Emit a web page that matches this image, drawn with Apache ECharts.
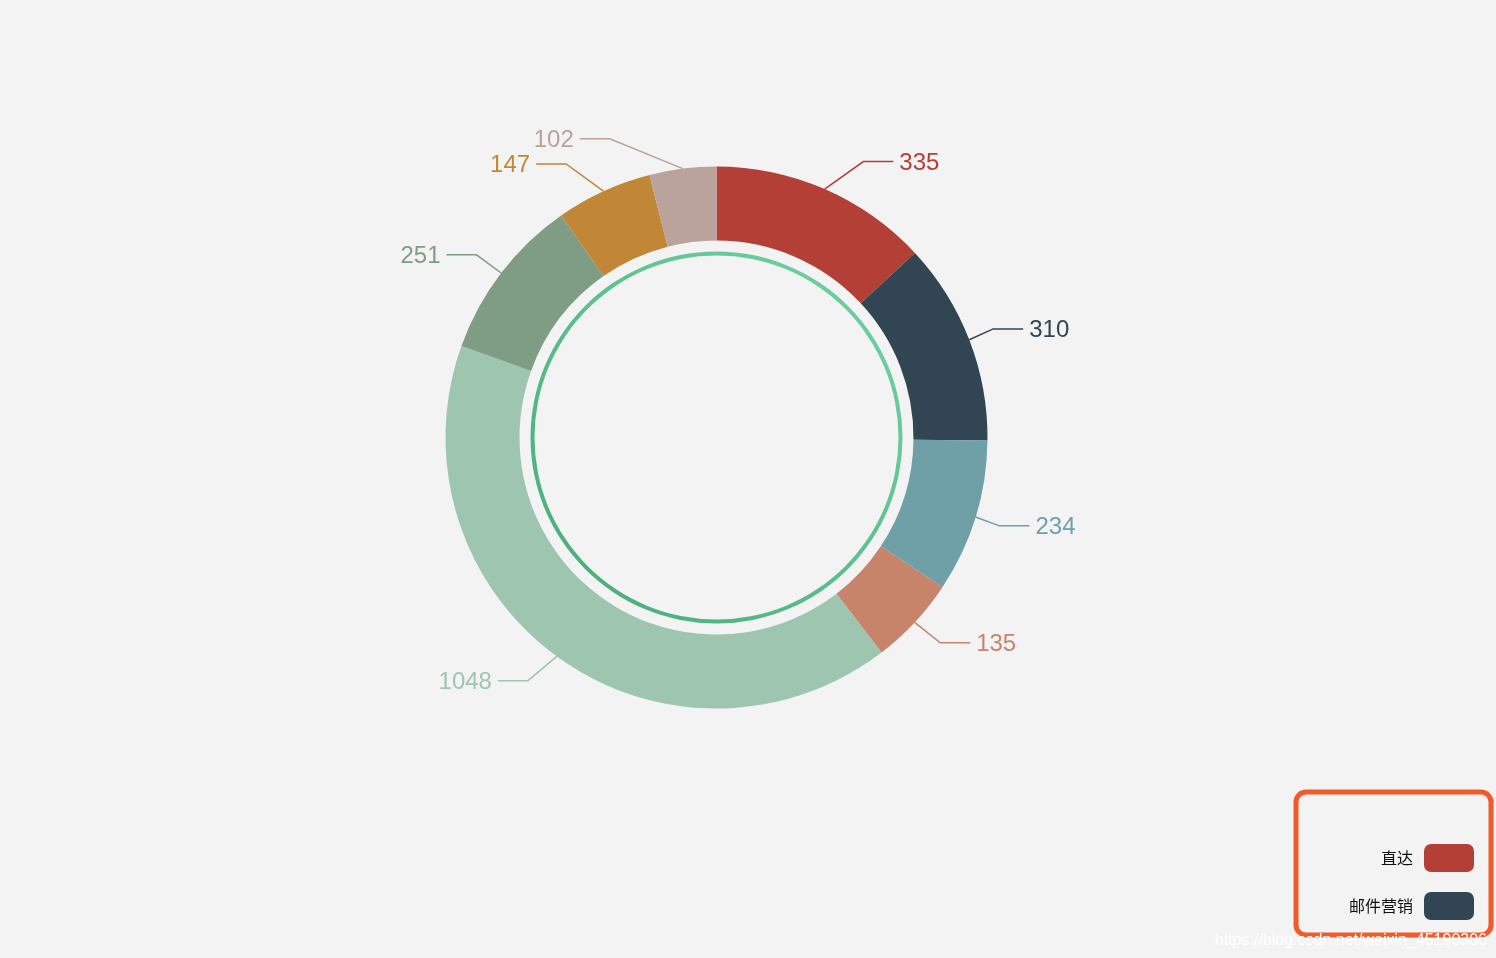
<!DOCTYPE html>
<html>
<head>
<meta charset="utf-8">
<script src="https://cdn.jsdelivr.net/npm/echarts@6/dist/echarts.min.js"></script>
<style>
html,body{margin:0;padding:0;background:#f3f3f3;}
#main{width:1496px;height:958px;}
</style>
</head>
<body>
<div id="main"></div>
<script>
var names = ['直达', '邮件营销', '联盟广告', '视频广告', '百度', '谷歌', '必应', '其他'];
var values = [335, 310, 234, 135, 1048, 251, 147, 102];
var colors = ['#b43f36', '#324553', '#6fa0a8', '#c7846a', '#9dc5af', '#7e9d84', '#c18736', '#b9a39a'];
var legendNames = ['直达', '邮件营销'];
var watermark = 'https://blog.csdn.net/weixin_45190306';

var CX = 716.5, CY = 437.5, R0 = 197, R = 271;
var LEN = 30, LEN2 = 30, GAP = 6;

var chart = echarts.init(document.getElementById('main'));
var data = names.map(function (n, i) {
  return {
    name: n, value: values[i],
    itemStyle: { color: colors[i] },
    label: { color: colors[i] },
    labelLine: { lineStyle: { color: colors[i] } }
  };
});

// Label placement in the classic (v4) style: text sits on a circle of radius R+LEN+LEN2
function layoutLabel(params) {
  var pts = params.labelLinePoints;
  if (!pts) return {};
  var y = pts[1][1];
  var dir = pts[1][0] >= CX ? 1 : -1;
  var dy = Math.abs(y - CY);
  var RR = R + LEN + LEN2;
  var dx = dy < RR ? Math.sqrt(RR * RR - dy * dy) : Math.abs(pts[2][0] - CX);
  var textX = CX + dir * dx;
  var endX = textX - dir * GAP;
  var cornerX = endX - dir * LEN2;
  return {
    x: textX,
    y: y + 1.5,
    align: dir > 0 ? 'left' : 'right',
    verticalAlign: 'middle',
    labelLinePoints: [pts[0], [cornerX, y], [endX, y]]
  };
}

chart.setOption({
  backgroundColor: '#f3f3f3',
  animation: false,
  legend: {
    data: legendNames,
    orient: 'vertical',
    align: 'right',
    right: 5,
    bottom: 23,
    itemWidth: 50,
    itemHeight: 28,
    itemGap: 20,
    icon: 'roundRect',
    padding: [52, 17, 15, 53],
    borderColor: '#f25a29',
    borderWidth: 5,
    borderRadius: 10,
    textStyle: { fontSize: 16, color: '#111', fontFamily: 'Noto Sans CJK SC', padding: [0, 6, 0, 0] }
  },
  graphic: [{
    type: 'text',
    right: 9,
    top: 933,
    style: {
      text: watermark,
      fill: '#ffffff',
      font: '16px "Liberation Sans", Arial, sans-serif',
      shadowColor: 'rgba(0,0,0,0.35)',
      shadowBlur: 2
    },
    z: 100
  }],
  series: [
    {
      type: 'pie',
      center: [CX, CY],
      radius: [182, 186],
      silent: true,
      label: { show: false },
      labelLine: { show: false },
      data: [{
        value: 1, name: 'ring',
        itemStyle: {
          color: new echarts.graphic.LinearGradient(0, 1, 1, 0, [
            { offset: 0, color: '#47aa78' },
            { offset: 1, color: '#72d4a6' }
          ])
        }
      }]
    },
    {
      type: 'pie',
      center: [CX, CY],
      radius: [R0, R],
      avoidLabelOverlap: false,
      label: {
        formatter: '{c}',
        fontSize: 24,
        fontFamily: '"Liberation Sans", Arial, sans-serif'
      },
      labelLine: { length: LEN, length2: LEN2, lineStyle: { width: 1.5 } },
      labelLayout: layoutLabel,
      data: data
    }
  ]
});
</script>
</body>
</html>
